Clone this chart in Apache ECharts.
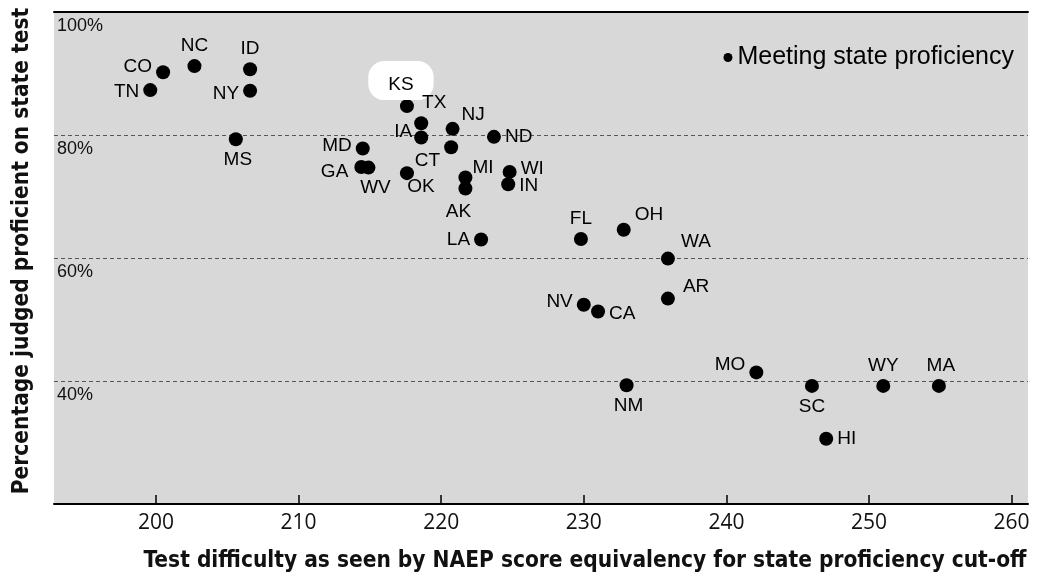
<!DOCTYPE html>
<html>
<head>
<meta charset="utf-8">
<script src="https://cdn.jsdelivr.net/npm/echarts@6/dist/echarts.min.js"></script>
<style>
  html, body { margin: 0; padding: 0; background: #fff; }
  #chart { width: 1041px; height: 580px; }
</style>
</head>
<body>
<div id="chart"></div>
<script>
// state codes, NAEP equivalent score of the cut-off, % proficient on state test
const states = ['CO', 'NC', 'ID', 'TN', 'NY', 'MS', 'KS', 'TX', 'IA', 'NJ', 'CT', 'ND', 'MD', 'GA', 'WV', 'OK', 'MI',
  'AK', 'WI', 'IN', 'LA', 'FL', 'OH', 'WA', 'AR', 'NV', 'CA', 'MO', 'NM', 'SC', 'WY', 'MA', 'HI']
const naepScore = [200.5, 202.7, 206.6, 199.6, 206.6, 205.6, 217.6, 218.6, 218.6, 220.8, 220.7, 223.7, 214.5, 214.4, 214.9, 217.6, 221.7,
  221.7, 224.8, 224.7, 222.8, 229.8, 232.8, 235.9, 235.9, 230.0, 231.0, 242.1, 233.0, 246.0, 251.0, 254.9, 247.0]
const pctProficient = [90.2, 91.2, 90.7, 87.3, 87.2, 79.3, 84.7, 81.9, 79.6, 81.0, 78.0, 79.7, 77.8, 74.8, 74.7, 73.8, 73.1,
  71.3, 74.0, 72.0, 63.0, 63.1, 64.6, 59.9, 53.4, 52.4, 51.3, 41.4, 39.3, 39.2, 39.2, 39.2, 30.6]
const xTicks = [200, 210, 220, 230, 240, 250, 260]

// where each state's label sits: [position, dx, dy]
const labelPos = {
  CO: ['left', 0, -6], NC: ['top', 0, 0], ID: ['top', 0, 0], TN: ['left', 0, 2], NY: ['left', 0, 3], MS: ['bottom', 2, 0],
  KS: ['top', -6, 5], TX: ['top', 13, 0], IA: ['left', 2, -6], NJ: ['right', -2, -14], CT: ['left', 0, 13],
  ND: ['right', 0, 0], MD: ['left', 0, -3], GA: ['left', -2, 5], WV: ['bottom', 7, 0], OK: ['bottom', 14, -7],
  MI: ['right', -4, -10], AK: ['bottom', -7, 3], WI: ['right', 0, -3], IN: ['right', 0, 2], LA: ['left', 0, 0],
  FL: ['top', 0, 0], OH: ['right', 0, -15], WA: ['right', 2, -17], AR: ['right', 4, -12], NV: ['left', 0, -3],
  CA: ['right', 0, 2], MO: ['left', 0, -8], NM: ['bottom', 2, 0], SC: ['bottom', 0, 0], WY: ['top', 0, 0],
  MA: ['top', 2, 0], HI: ['right', 0, 0]
}

const points = states.map((s, i) => {
  const p = labelPos[s]
  const item = { name: s, value: [naepScore[i], pctProficient[i]], label: { position: p[0], offset: [p[1], p[2]] } }
  // the original has a white patch behind KS
  if (s === 'KS') Object.assign(item.label, { backgroundColor: '#fff', padding: [14, 20, 6, 20], borderRadius: 16 })
  return item
})

const titleFont = { fontSize: 22.5, fontWeight: 'bold', color: '#111', fontFamily: 'DejaVu Sans Condensed' }

const chart = echarts.init(document.getElementById('chart'))
chart.setOption({
  animation: false,
  textStyle: { fontFamily: 'Liberation Sans' },
  grid: { left: 54, right: 13, top: 12, bottom: 76, show: true, backgroundColor: '#d8d8d8', borderWidth: 0 },
  legend: {
    data: ['Meeting state proficiency'], right: 22, top: 40, icon: 'circle', itemWidth: 9, itemHeight: 9, itemGap: 4,
    textStyle: { fontSize: 25, color: '#000', fontFamily: 'Liberation Sans' }
  },
  xAxis: [{
    type: 'value', min: 192.85, max: 261.15,
    name: 'Test difficulty as seen by NAEP score equivalency for state proficiency cut-off',
    nameLocation: 'middle', nameGap: 46,
    nameTextStyle: Object.assign({ padding: [0, 0, 0, 88] }, titleFont),
    axisLine: { lineStyle: { color: '#000', width: 2 } },
    axisTick: { inside: true, length: 9, customValues: xTicks, lineStyle: { color: '#000', width: 1.5 } },
    axisLabel: { customValues: xTicks, fontSize: 21, color: '#111', margin: 9, fontFamily: 'Open Sans' },
    splitLine: { show: false }
  }, {
    // plain black frame line along the top
    type: 'value', position: 'top', min: 192.85, max: 261.15,
    axisLine: { show: true, lineStyle: { color: '#000', width: 2 } },
    axisTick: { show: false }, axisLabel: { show: false }, splitLine: { show: false }
  }],
  yAxis: {
    type: 'value', min: 20, max: 100, interval: 20,
    name: 'Percentage judged proficient on state test',
    nameLocation: 'middle', nameGap: 20, nameRotate: 90,
    nameTextStyle: Object.assign({ padding: [0, 0, 0, 14] }, titleFont),
    axisLine: { show: false }, axisTick: { show: false },
    axisLabel: {
      inside: true, margin: 3, verticalAlign: 'top', padding: [5, 0, 0, 0], fontSize: 18, color: '#111',
      formatter: v => (v === 20 ? '' : v + '%')
    },
    splitLine: { lineStyle: { color: '#555', type: [4, 3], width: 1 } }
  },
  series: [{
    name: 'Meeting state proficiency', type: 'scatter', symbolSize: 14,
    itemStyle: { color: '#000', opacity: 1 },
    label: { show: true, formatter: '{b}', fontSize: 19, color: '#000', distance: 4 },
    data: points
  }]
})
</script>
</body>
</html>
